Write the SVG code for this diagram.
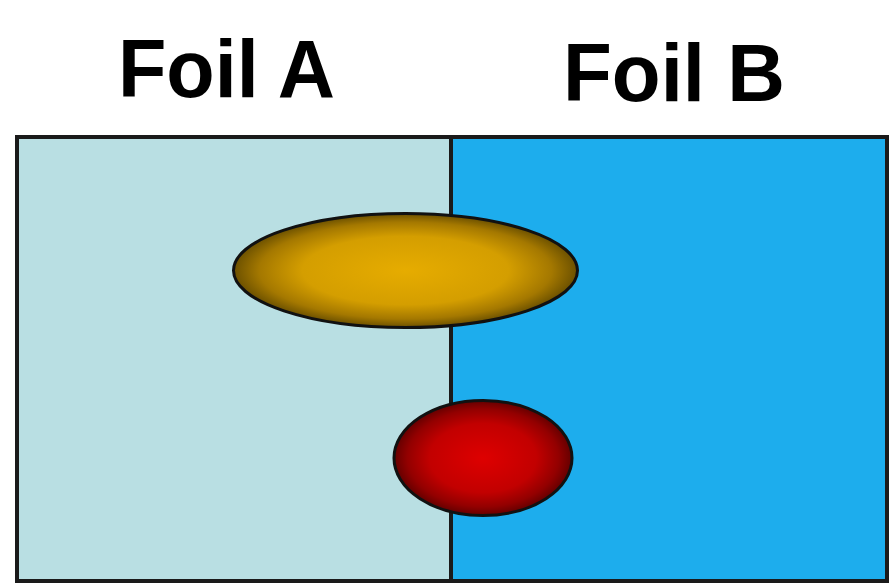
<svg xmlns="http://www.w3.org/2000/svg" width="891" height="585" viewBox="0 0 891 585">
<style>
.lbl{font-family:"Liberation Sans",Arial,sans-serif;font-weight:bold;font-size:82px;fill:#000}
.edge{stroke:#1a1a1a;stroke-width:4;fill:none}
.blob{stroke:#111;stroke-width:3}
</style>
<defs>
<radialGradient id="gold" cx="50%" cy="50%" r="50%">
<stop offset="0" stop-color="#E6AC00"/>
<stop offset="0.6" stop-color="#D49E00"/>
<stop offset="0.85" stop-color="#A47800"/>
<stop offset="1" stop-color="#6B5000"/>
</radialGradient>
<radialGradient id="red" cx="50%" cy="50%" r="50%">
<stop offset="0" stop-color="#DE0000"/>
<stop offset="0.6" stop-color="#C20000"/>
<stop offset="0.85" stop-color="#930000"/>
<stop offset="1" stop-color="#640000"/>
</radialGradient>
</defs>
<rect width="891" height="585" fill="#fff"/>
<g id="foilA">
<rect x="17" y="137" width="434" height="444" fill="#B9DFE3"/>
<text class="lbl" x="118" y="97" textLength="217" lengthAdjust="spacingAndGlyphs">Foil A</text>
</g>
<g id="foilB">
<rect x="451" y="137" width="436" height="444" fill="#1DADED"/>
<text class="lbl" x="563" y="101" textLength="222" lengthAdjust="spacingAndGlyphs">Foil B</text>
</g>
<g id="outline">
<rect class="edge" x="17" y="137" width="870" height="444"/>
<line class="edge" x1="451" y1="137" x2="451" y2="581"/>
</g>
<g id="goldParticle">
<ellipse class="blob" cx="405.5" cy="270.5" rx="172" ry="57" fill="url(#gold)"/>
</g>
<g id="redParticle">
<ellipse class="blob" cx="483" cy="458" rx="89" ry="57.5" fill="url(#red)"/>
</g>
</svg>
